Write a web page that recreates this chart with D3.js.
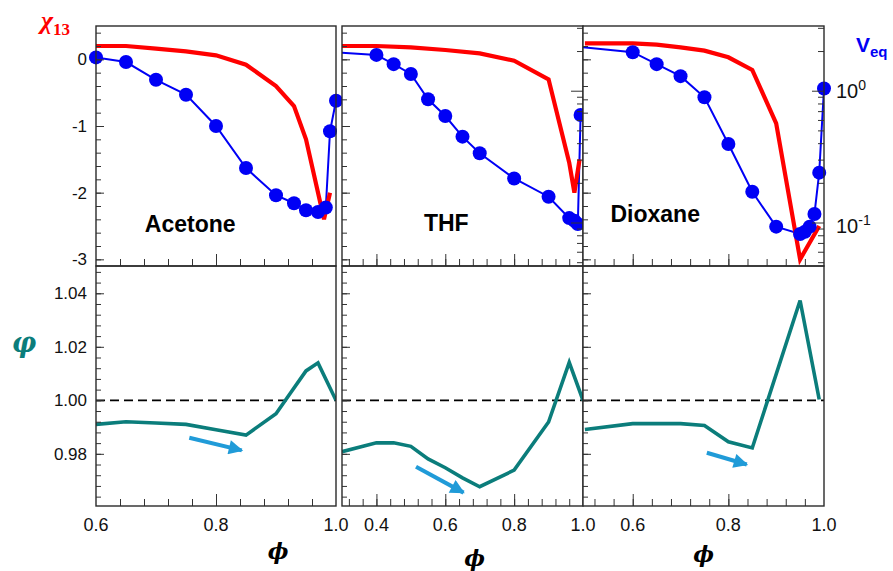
<!DOCTYPE html>
<html><head><meta charset="utf-8">
<script src="https://cdn.jsdelivr.net/npm/d3@7"></script>
<style>body{margin:0;background:#fff}</style>
</head><body>
<svg id="chart" width="893" height="571"></svg>
<script>
// ---------- data ----------
const solvents = ["Acetone", "THF", "Dioxane"];

// interaction parameter chi13 vs volume fraction phi
const chiPhiAcetone = [0.6, 0.65, 0.7, 0.75, 0.8, 0.85, 0.9, 0.93, 0.95, 0.98, 0.99];
const chiAcetone    = [0.2, 0.2, 0.16, 0.12, 0.06, -0.08, -0.4, -0.7, -1.2, -2.4, -2.0];
const chiPhiTHF = [0.3, 0.4, 0.5, 0.6, 0.7, 0.8, 0.9, 0.96, 0.975, 0.99];
const chiTHF    = [0.2, 0.2, 0.18, 0.14, 0.09, -0.02, -0.3, -1.55, -2.0, -1.5];
const chiPhiDioxane = [0.5, 0.6, 0.65, 0.7, 0.75, 0.8, 0.85, 0.9, 0.95, 0.99];
const chiDioxane    = [0.24, 0.24, 0.22, 0.18, 0.13, 0.03, -0.16, -0.96, -3.0, -2.5];

// equilibrium volume V_eq (log axis)
const vPhiAcetone = [0.6, 0.65, 0.7, 0.75, 0.8, 0.85, 0.9, 0.93, 0.95, 0.97, 0.983, 0.99, 1.0];
const vAcetone    = [1.79, 1.65, 1.21, 0.933, 0.54, 0.259, 0.161, 0.14, 0.124, 0.12, 0.13, 0.492, 0.84];
const vPhiTHF = [0.2, 0.4, 0.45, 0.5, 0.55, 0.6, 0.65, 0.7, 0.8, 0.9, 0.96, 0.975, 0.985, 0.993];
const vTHF    = [2.02, 1.87, 1.59, 1.34, 0.861, 0.643, 0.448, 0.335, 0.216, 0.157, 0.108, 0.103, 0.0975, 0.654];
const vPhiDioxane = [0.4, 0.6, 0.65, 0.7, 0.75, 0.8, 0.85, 0.9, 0.95, 0.96, 0.97, 0.98, 0.99, 1.0];
const vDioxane    = [2.32, 1.96, 1.59, 1.29, 0.891, 0.394, 0.171, 0.093, 0.0818, 0.0851, 0.093, 0.116, 0.239, 1.04];

// varphi vs phi
const gPhiAcetone = [0.6, 0.65, 0.7, 0.75, 0.8, 0.85, 0.9, 0.925, 0.95, 0.97, 1.0];
const gAcetone    = [0.991, 0.992, 0.9915, 0.991, 0.989, 0.987, 0.995, 1.003, 1.011, 1.014, 1.0];
const gPhiTHF = [0.3, 0.4, 0.45, 0.5, 0.55, 0.6, 0.65, 0.7, 0.8, 0.9, 0.96, 1.0];
const gTHF    = [0.9808, 0.9841, 0.9841, 0.9828, 0.9781, 0.9748, 0.971, 0.9677, 0.9739, 0.9919, 1.0142, 1.0];
const gPhiDioxane = [0.5, 0.6, 0.7, 0.75, 0.8, 0.85, 0.95, 0.99];
const gDioxane    = [0.9891, 0.9913, 0.9913, 0.9906, 0.9845, 0.9822, 1.0373, 1.0003];

// trend arrows (start phi, start value, end phi, end value)
const arrowAcetone = [0.7555, 0.986, 0.843, 0.9813];
const arrowTHF     = [0.515, 0.9752, 0.653, 0.9655];
const arrowDioxane = [0.755, 0.9804, 0.8385, 0.976];

// axis tick labels
const xTickLabels = [["0.6", "0.8", "1.0"], ["0.4", "0.6", "0.8", "1.0"], ["0.6", "0.8", "1.0"]];
const chiTickLabels = ["0", "-1", "-2", "-3"];
const varphiTickLabels = ["1.04", "1.02", "1.00", "0.98"];

// ---------- layout ----------
const svg = d3.select("#chart");
const panelX = [[96, 336], [342, 583], [583, 824]];
const phiDomains = [[0.6, 1.0], [0.3, 1.0], [0.496, 1.0]];
const topY = [26, 266], botY = [266, 506];
const RED = "#ff0000", BLUE = "#0000f5", TEAL = "#0b7d7b", ARROW = "#209bd8", FRAME = "#2a2a2a";

const yChi = d3.scaleLinear([-3.1, 0.5], [topY[1], topY[0]]);
const yV = d3.scaleLog([Math.pow(10, -1.33), Math.pow(10, 0.491)], [topY[1], topY[0]]);
const yG = d3.scaleLinear([0.9605, 1.0502], [botY[1], botY[0]]);

const chiSeries = [[chiPhiAcetone, chiAcetone], [chiPhiTHF, chiTHF], [chiPhiDioxane, chiDioxane]];
const vSeries = [[vPhiAcetone, vAcetone], [vPhiTHF, vTHF], [vPhiDioxane, vDioxane]];
const gSeries = [[gPhiAcetone, gAcetone], [gPhiTHF, gTHF], [gPhiDioxane, gDioxane]];
const arrows = [arrowAcetone, arrowTHF, arrowDioxane];
// solvent name anchors in (phi, chi) units
const nameAnchor = [[0.757, -2.59], [0.603, -2.575], [0.647, -2.44]];

const zip = (a, b) => a.map((v, i) => [v, b[i]]);
const range = (a, b, s) => d3.range(Math.round(a / s), Math.round(b / s) + 1).map(k => +(k * s).toFixed(6));

const defs = svg.append("defs");
defs.append("marker").attr("id", "ahead").attr("viewBox", "0 0 10 10")
  .attr("refX", 9).attr("refY", 5).attr("markerWidth", 4).attr("markerHeight", 3.6)
  .attr("markerUnits", "strokeWidth").attr("orient", "auto")
  .append("path").attr("d", "M0,0 L10,5 L0,10 Z").attr("fill", ARROW);

const font = "'Liberation Sans', Arial, sans-serif";

panelX.forEach((px, i) => {
  const x = d3.scaleLinear(phiDomains[i], px);
  const w = px[1] - px[0];
  const g = svg.append("g");

  // backgrounds
  g.append("rect").attr("x", px[0]).attr("y", topY[0]).attr("width", w).attr("height", topY[1] - topY[0]).attr("fill", "#fff");
  g.append("rect").attr("x", px[0]).attr("y", botY[0]).attr("width", w).attr("height", botY[1] - botY[0]).attr("fill", "#fff");

  const cidT = "clipT" + i, cidB = "clipB" + i;
  defs.append("clipPath").attr("id", cidT).append("rect").attr("x", px[0]).attr("y", topY[0] - 3).attr("width", w).attr("height", topY[1] - topY[0] + 3);
  defs.append("clipPath").attr("id", cidB).append("rect").attr("x", px[0]).attr("y", botY[0]).attr("width", w).attr("height", botY[1] - botY[0]);

  // ----- top panel: chi13 (red) and V_eq (blue) -----
  const lineChi = d3.line().x(d => x(d[0])).y(d => yChi(d[1]));
  const lineV = d3.line().x(d => x(d[0])).y(d => yV(d[1]));
  const vData = zip(vSeries[i][0], vSeries[i][1]);

  g.append("path").attr("d", lineV(vData)).attr("clip-path", `url(#${cidT})`)
    .attr("fill", "none").attr("stroke", BLUE).attr("stroke-width", 2);
  g.append("path").attr("d", lineChi(zip(chiSeries[i][0], chiSeries[i][1]))).attr("clip-path", `url(#${cidT})`)
    .attr("fill", "none").attr("stroke", RED).attr("stroke-width", 4.2).attr("stroke-linejoin", "miter");
  g.selectAll(null).data(vData.filter(d => d[0] >= phiDomains[i][0] - 1e-9)).join("circle")
    .attr("cx", d => x(d[0])).attr("cy", d => yV(d[1])).attr("r", 7).attr("fill", BLUE);

  g.append("text").attr("x", x(nameAnchor[i][0])).attr("y", yChi(nameAnchor[i][1]))
    .attr("text-anchor", "middle").attr("font-family", font).attr("font-weight", "bold")
    .attr("font-size", 23).attr("fill", "#000").text(solvents[i]);

  // ----- bottom panel: varphi (teal) -----
  const lineG = d3.line().x(d => x(d[0])).y(d => yG(d[1]));
  g.append("line").attr("x1", px[0]).attr("x2", px[1]).attr("y1", yG(1)).attr("y2", yG(1))
    .attr("stroke", "#000").attr("stroke-width", 1.8).attr("stroke-dasharray", "9,5");
  g.append("path").attr("d", lineG(zip(gSeries[i][0], gSeries[i][1]))).attr("clip-path", `url(#${cidB})`)
    .attr("fill", "none").attr("stroke", TEAL).attr("stroke-width", 3.6).attr("stroke-linejoin", "miter");
  const a = arrows[i];
  g.append("line").attr("x1", x(a[0])).attr("y1", yG(a[1])).attr("x2", x(a[2])).attr("y2", yG(a[3]))
    .attr("stroke", ARROW).attr("stroke-width", 4).attr("marker-end", "url(#ahead)");

  // ----- axes (ticks drawn inward) -----
  const xMinor = range(0, 1.0, 0.04).filter(v => v > phiDomains[i][0] + 1e-6 && v < phiDomains[i][1] - 1e-6);
  const xMajor = range(0, 1.0, 0.2).filter(v => v > phiDomains[i][0] + 1e-6 && v < phiDomains[i][1] - 1e-6);

  [topY[1], botY[1]].forEach(yb => {
    g.append("g").attr("transform", `translate(0,${yb})`)
      .call(d3.axisBottom(x).tickValues(xMinor).tickSize(-7).tickFormat(""));
    g.append("g").attr("transform", `translate(0,${yb})`)
      .call(d3.axisBottom(x).tickValues(xMajor).tickSize(-12).tickFormat(""));
  });

  // x tick labels
  g.selectAll(null).data(xTickLabels[i]).join("text")
    .attr("x", d => x(+d)).attr("y", botY[1] + 25).attr("text-anchor", "middle")
    .attr("font-family", font).attr("font-size", 18).attr("fill", "#111").text(d => d);

  // left axes
  const chiMinor = range(-3.0, 0.4, 0.2);
  const gMinor = range(0.964, 1.048, 0.004);
  const gl1 = g.append("g").attr("transform", `translate(${px[0]},0)`);
  gl1.call(d3.axisLeft(yChi).tickValues(chiMinor).tickSize(-5).tickFormat(""));
  const gl2 = g.append("g").attr("transform", `translate(${px[0]},0)`);
  gl2.call(d3.axisLeft(yChi).tickValues(chiTickLabels.map(Number)).tickSize(-8).tickPadding(9)
    .tickFormat((d, k) => i === 0 ? chiTickLabels[k] : ""));
  const gl3 = g.append("g").attr("transform", `translate(${px[0]},0)`);
  gl3.call(d3.axisLeft(yG).tickValues(gMinor).tickSize(-5).tickFormat(""));
  const gl4 = g.append("g").attr("transform", `translate(${px[0]},0)`);
  gl4.call(d3.axisLeft(yG).tickValues(varphiTickLabels.map(Number)).tickSize(-8).tickPadding(9)
    .tickFormat((d, k) => i === 0 ? varphiTickLabels[k] : ""));

  // right log axis for V_eq
  if (i > 0) {
    const logMinor = [];
    [0.01, 0.1, 1].forEach(dec => d3.range(2, 10).forEach(m => logMinor.push(+(m * dec).toPrecision(3))));
    const inDom = v => v >= yV.domain()[0] && v <= yV.domain()[1];
    g.append("g").attr("transform", `translate(${px[1]},0)`)
      .call(d3.axisRight(yV).tickValues(logMinor.filter(inDom)).tickSize(-6).tickFormat(""));
    g.append("g").attr("transform", `translate(${px[1]},0)`)
      .call(d3.axisRight(yV).tickValues([0.1, 1]).tickSize(-12).tickFormat(""));
  }

  // frames
  g.append("rect").attr("x", px[0]).attr("y", topY[0]).attr("width", w).attr("height", topY[1] - topY[0])
    .attr("fill", "none").attr("stroke", FRAME).attr("stroke-width", 1.4);
  g.append("rect").attr("x", px[0]).attr("y", botY[0]).attr("width", w).attr("height", botY[1] - botY[0])
    .attr("fill", "none").attr("stroke", FRAME).attr("stroke-width", 1.4);

  // x axis title
  const titleY = [559, 566, 562][i];
  g.append("text").attr("x", (px[0] + px[1]) / 2 + [62, 12, 0][i]).attr("y", titleY)
    .attr("text-anchor", "middle").attr("font-family", "'DejaVu Serif', 'Liberation Serif', serif")
    .attr("font-style", "italic").attr("font-weight", "bold").attr("font-size", 22).attr("fill", "#000").text("ϕ");
});

// axis styling
svg.selectAll(".domain").remove();
svg.selectAll(".tick line").attr("stroke", "#333").attr("stroke-width", 1);
svg.selectAll(".tick text").attr("font-family", font).attr("font-size", 17).attr("fill", "#111");

// right axis labels 10^0, 10^-1
const xr = panelX[2][1];
[[1, "0"], [0.1, "-1"]].forEach(([v, e]) => {
  const t = svg.append("text").attr("x", xr + 12).attr("y", yV(v) + 7 + (v < 1 ? 3 : 0))
    .attr("font-family", font).attr("font-size", 20).attr("fill", "#111");
  t.append("tspan").text("10");
  t.append("tspan").attr("dy", -8).attr("font-size", 14).text(e);
});

// axis titles
const chiT = svg.append("text").attr("x", 41).attr("y", 29).attr("fill", RED)
  .attr("font-family", "'Liberation Serif', 'DejaVu Serif', serif").attr("font-weight", "bold");
chiT.append("tspan").attr("font-size", 26).attr("font-style", "italic").text("χ");
chiT.append("tspan").attr("font-size", 17).attr("dy", 6).text("13");

const vT = svg.append("text").attr("x", 856).attr("y", 52).attr("fill", BLUE)
  .attr("font-family", font).attr("font-weight", "bold");
vT.append("tspan").attr("font-size", 21).text("V");
vT.append("tspan").attr("font-size", 15).attr("dy", 5).text("eq");

svg.append("text").attr("x", 24).attr("y", 352).attr("text-anchor", "middle").attr("fill", TEAL)
  .attr("font-family", "'DejaVu Serif', 'Liberation Serif', serif").attr("font-style", "italic")
  .attr("font-weight", "bold").attr("font-size", 27).text("φ");
</script>
</body></html>
